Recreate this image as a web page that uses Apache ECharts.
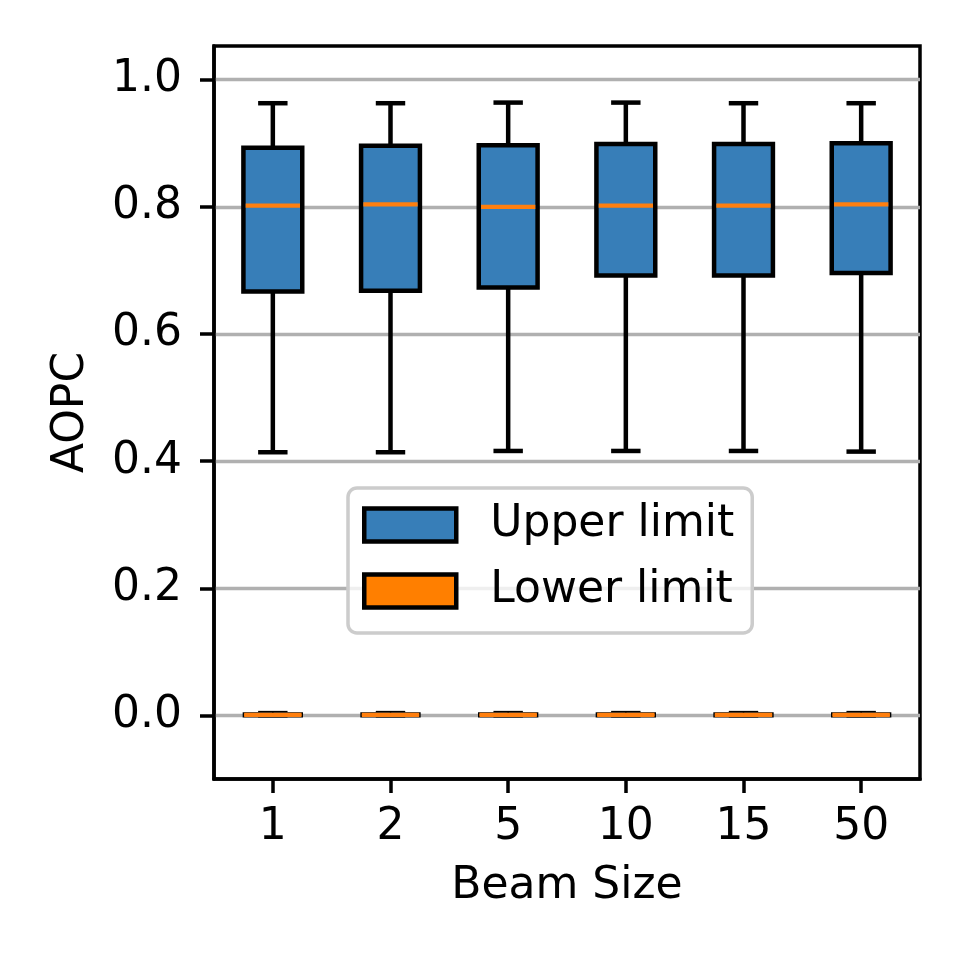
<!DOCTYPE html>
<html>
<head>
<meta charset="utf-8">
<script src="https://cdn.jsdelivr.net/npm/echarts@6/dist/echarts.min.js"></script>
<style>
  html, body { margin: 0; padding: 0; background: #fff; }
  #chart { width: 969px; height: 969px; }
</style>
</head>
<body>
<div id="chart"></div>
<script>
// beam sizes on the x axis
const categories = ['1', '2', '5', '10', '15', '50'];
const yTicks = [0, 0.2, 0.4, 0.6, 0.8, 1.0];

// upper limit boxes (whisker low, q1, median, q3, whisker high)
const upperMin = [0.414, 0.414, 0.416, 0.416, 0.416, 0.415];
const upperQ1  = [0.667, 0.668, 0.673, 0.692, 0.692, 0.696];
const upperMed = [0.802, 0.804, 0.800, 0.802, 0.802, 0.804];
const upperQ3  = [0.893, 0.896, 0.897, 0.899, 0.899, 0.900];
const upperMax = [0.963, 0.963, 0.964, 0.964, 0.963, 0.963];

// lower limit boxes, all squashed near zero
const lowerMin = [-0.002, -0.002, -0.002, -0.002, -0.002, -0.002];
const lowerQ1  = [-0.002, -0.002, -0.002, -0.002, -0.002, -0.002];
const lowerMed = [0.001, 0.001, 0.001, 0.001, 0.001, 0.001];
const lowerQ3  = [0.004, 0.004, 0.004, 0.004, 0.004, 0.004];
const lowerMax = [0.006, 0.006, 0.006, 0.006, 0.006, 0.006];

const FONT = 'DejaVu Sans';
const BLUE = '#377eb8';
const ORANGE = '#ff7f00';
const MEDIAN = '#ff7f0e';

function toRows(mn, q1, md, q3, mx) {
    return categories.map((c, i) => [i, mn[i], q1[i], md[i], q3[i], mx[i]]);
}

// matplotlib style box: caps are half the box width
function makeBox(fill, lw) {
    return function (params, api) {
        const x = api.value(0);
        const lo = api.coord([x, api.value(1)]);
        const q1 = api.coord([x, api.value(2)]);
        const md = api.coord([x, api.value(3)]);
        const q3 = api.coord([x, api.value(4)]);
        const hi = api.coord([x, api.value(5)]);
        const bw = api.size([1, 0])[0] * 0.5;
        const cw = bw * 0.5;
        const cx = q1[0];
        const line = { stroke: '#000', lineWidth: lw };
        return {
            type: 'group',
            children: [
                { type: 'line', shape: { x1: cx, y1: lo[1], x2: cx, y2: q1[1] }, style: line },
                { type: 'line', shape: { x1: cx, y1: q3[1], x2: cx, y2: hi[1] }, style: line },
                { type: 'line', shape: { x1: cx - cw / 2, y1: lo[1], x2: cx + cw / 2, y2: lo[1] }, style: line },
                { type: 'line', shape: { x1: cx - cw / 2, y1: hi[1], x2: cx + cw / 2, y2: hi[1] }, style: line },
                {
                    type: 'rect',
                    shape: { x: cx - bw / 2, y: q3[1], width: bw, height: q1[1] - q3[1] },
                    style: { fill: fill, stroke: '#000', lineWidth: lw }
                },
                {
                    type: 'line',
                    shape: { x1: cx - bw / 2 + lw / 2, y1: md[1], x2: cx + bw / 2 - lw / 2, y2: md[1] },
                    style: { stroke: MEDIAN, lineWidth: 4.2 }
                }
            ]
        };
    };
}

const chart = echarts.init(document.getElementById('chart'));

chart.setOption({
    backgroundColor: '#fff',
    animation: false,
    textStyle: { fontFamily: FONT },
    grid: {
        left: 214, right: 49, top: 46, bottom: 190,
        show: true, borderColor: '#000', borderWidth: 3.5,
        outerBoundsMode: 'none'
    },
    legend: {
        left: 348, top: 488,
        orient: 'vertical',
        icon: 'rect',
        itemWidth: 92, itemHeight: 33, itemGap: 22,
        padding: [15, 18, 20, 14],
        backgroundColor: 'rgba(255,255,255,0.8)',
        borderColor: '#cccccc', borderWidth: 3.5, borderRadius: 9,
        textStyle: { fontFamily: FONT, fontSize: 44, color: '#000', lineHeight: 44, padding: [0, 0, 0, 29] },
        data: [
            { name: 'Upper limit', itemStyle: { color: BLUE, borderColor: '#000', borderWidth: 4.5 } },
            { name: 'Lower limit', itemStyle: { color: ORANGE, borderColor: '#000', borderWidth: 4.5 } }
        ]
    },
    xAxis: {
        type: 'category',
        data: categories,
        boundaryGap: true,
        name: 'Beam Size',
        nameLocation: 'middle',
        nameGap: 86,
        nameTextStyle: { fontFamily: FONT, fontSize: 44, color: '#000' },
        axisLine: { show: true, onZero: false, lineStyle: { color: '#000', width: 3.5 } },
        axisTick: { show: true, alignWithLabel: true, length: 14, lineStyle: { color: '#000', width: 3.5 } },
        axisLabel: { fontFamily: FONT, fontSize: 44, color: '#000', margin: 27 },
        splitLine: { show: false }
    },
    yAxis: {
        type: 'value',
        min: -0.1,
        max: 1.053,
        name: 'AOPC',
        nameLocation: 'middle',
        nameGap: 120,
        nameTextStyle: { fontFamily: FONT, fontSize: 44, color: '#000' },
        axisLine: { show: true, lineStyle: { color: '#000', width: 3.5 } },
        axisTick: { show: true, length: 14, customValues: yTicks, lineStyle: { color: '#000', width: 3.5 } },
        axisLabel: {
            fontFamily: FONT, fontSize: 44, color: '#000', margin: 32,
            customValues: yTicks,
            formatter: v => v.toFixed(1)
        },
        splitLine: { show: true, lineStyle: { color: '#b0b0b0', width: 3.3 } }
    },
    series: [
        {
            name: 'Upper limit',
            type: 'custom',
            renderItem: makeBox(BLUE, 4.5),
            itemStyle: { color: BLUE },
            encode: { x: 0, y: [1, 2, 3, 4, 5] },
            data: toRows(upperMin, upperQ1, upperMed, upperQ3, upperMax),
            z: 3
        },
        {
            name: 'Lower limit',
            type: 'custom',
            renderItem: makeBox(ORANGE, 1.5),
            itemStyle: { color: ORANGE },
            encode: { x: 0, y: [1, 2, 3, 4, 5] },
            data: toRows(lowerMin, lowerQ1, lowerMed, lowerQ3, lowerMax),
            z: 3
        }
    ]
});
</script>
</body>
</html>
